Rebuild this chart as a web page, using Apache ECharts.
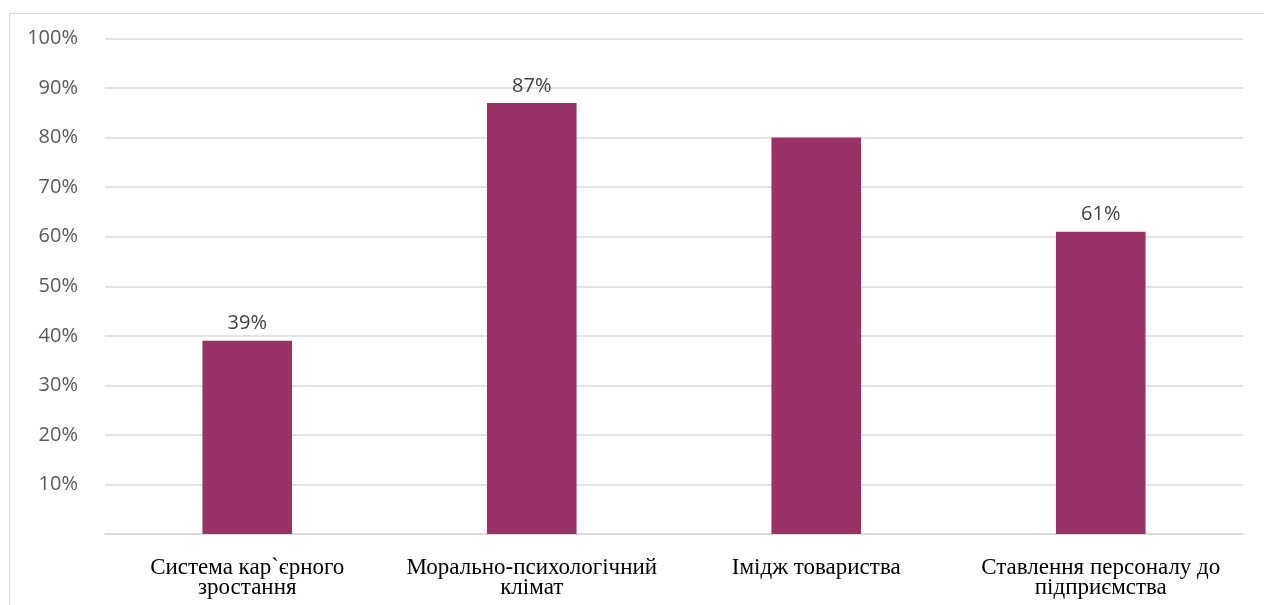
<!DOCTYPE html>
<html>
<head>
<meta charset="utf-8">
<script src="https://cdn.jsdelivr.net/npm/echarts@6/dist/echarts.min.js"></script>
<style>
html,body{margin:0;padding:0;background:#fff;}
#chart{width:1264px;height:605px;}
</style>
</head>
<body>
<div id="chart"></div>
<script>
const categories = [
  "Система кар`єрного\nзростання",
  "Морально-психологічний\nклімат",
  "Імідж товариства",
  "Ставлення персоналу до\nпідприємства"
];
const values = [39, 87, 80, 61];
const showValueLabel = [true, true, false, true];
const yTicks = [0, 10, 20, 30, 40, 50, 60, 70, 80, 90, 100];

const chart = echarts.init(document.getElementById('chart'), null, {renderer: 'canvas'});
chart.setOption({
  animation: false,
  backgroundColor: '#ffffff',
  graphic: [{
    type: 'rect',
    shape: {x: 9.5, y: 13.5, width: 1400, height: 800},
    style: {fill: 'none', stroke: '#d9d9d9', lineWidth: 1},
    silent: true
  }],
  grid: {left: 105, right: 21, top: 38.5, bottom: 71, containLabel: false},
  xAxis: {
    type: 'category',
    data: categories,
    axisLine: {lineStyle: {color: '#d9d9d9', width: 1.5}},
    axisTick: {show: false},
    axisLabel: {
      interval: 0,
      margin: 24,
      color: '#000000',
      fontFamily: '"Liberation Serif", "DejaVu Serif", serif',
      fontSize: 23,
      lineHeight: 20
    }
  },
  yAxis: {
    type: 'value',
    min: yTicks[0],
    max: yTicks[yTicks.length - 1],
    interval: 10,
    axisLine: {show: false},
    axisTick: {show: false},
    splitLine: {lineStyle: {color: '#d9d9d9', width: 1.5}},
    axisLabel: {
      margin: 27,
      color: '#595959',
      fontFamily: '"Open Sans", "Noto Sans", sans-serif',
      fontSize: 20,
      formatter: v => v === 0 ? '' : v + '%'
    }
  },
  series: [{
    type: 'bar',
    barWidth: '31.5%',
    itemStyle: {color: '#993366'},
    data: values.map((v, i) => ({
      value: v,
      label: {show: showValueLabel[i]}
    })),
    label: {
      position: 'top',
      distance: 7,
      color: '#404040',
      fontFamily: '"Open Sans", "Noto Sans", sans-serif',
      fontSize: 20,
      formatter: p => p.value + '%'
    }
  }]
});
</script>
</body>
</html>
